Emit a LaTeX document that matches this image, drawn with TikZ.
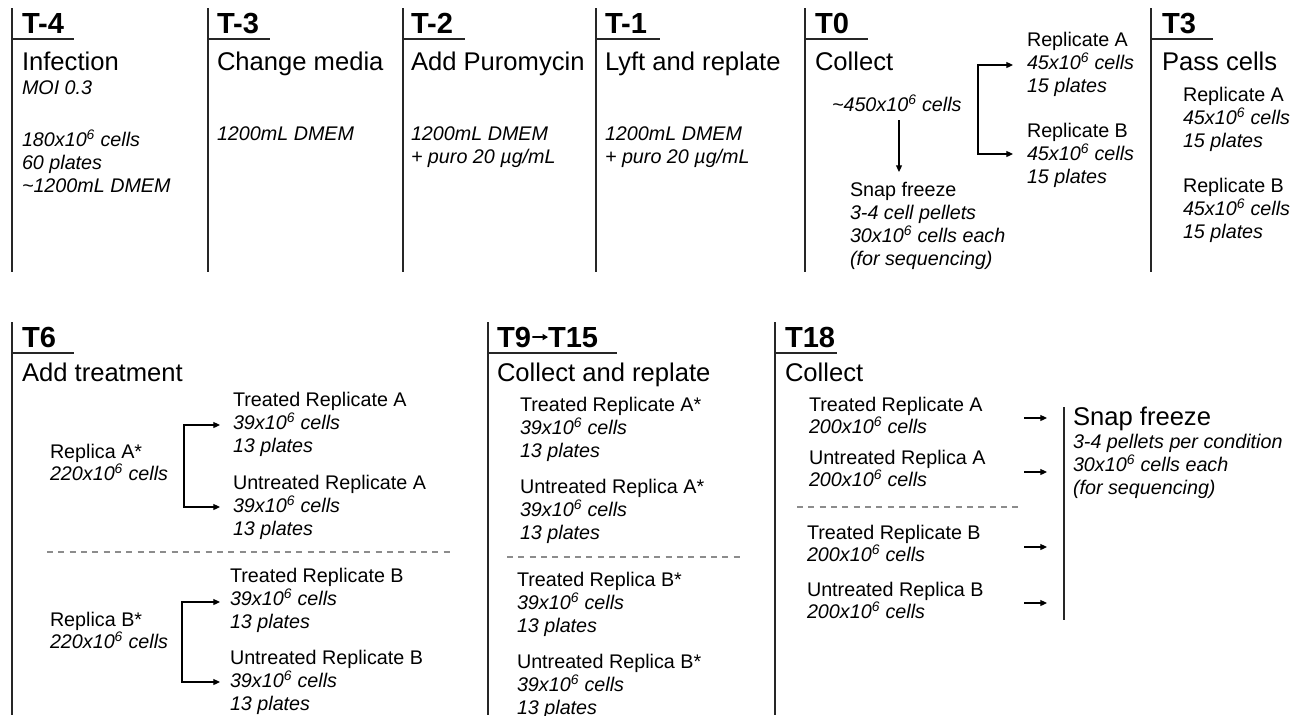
\documentclass[tikz,border=0pt]{standalone}
\usepackage{fontspec}
\setmainfont{Liberation Sans}
\usetikzlibrary{arrows.meta}
\newcommand\ttlf{\fontsize{21.8}{26}\selectfont\bfseries}
\newcommand\hdgf{\fontsize{19.2}{23}\selectfont}
\newcommand\smlf{\fontsize{14.8}{17.25}\selectfont}
\newcommand\blk[1]{\smlf\begin{tabular}[t]{@{}l@{}}#1\end{tabular}}
\newcommand\tsx{x10\textsuperscript{6}}
\begin{document}
\begin{tikzpicture}[x=0.75pt,y=-0.75pt,
  txt/.style={anchor=base west,inner sep=0pt,outer sep=0pt},
  ttl/.style={txt,font=\ttlf},
  hdg/.style={txt,font=\hdgf},
  sml/.style={txt,font=\smlf},
  vline/.style={line width=1pt,draw=black!85},
  uline/.style={line width=1pt,draw=black!85},
  sepline/.style={draw=black!45,line width=1.6pt,dash pattern=on 4.5pt off 4pt},
  arr/.style={line width=0.8pt,-{Triangle[length=5pt,width=4.5pt]}},
  barr/.style={line width=0.8pt,{Triangle[length=5pt,width=4.5pt]}-{Triangle[length=5pt,width=4.5pt]}}]
\useasboundingbox (0,0) rectangle (1316,715);

% ---------- top row: separators ----------
\foreach \x in {12,208,403,596,805,1151} \draw[vline] (\x,8) -- (\x,272);
\foreach \x/\e in {12/74,208/270,403/465,596/660,805/868,1151/1213} \draw[uline] (\x,39) -- (\e,39);

% titles
\node[ttl] (tm4) at (22,33) {T-4};
\node[ttl] (tm3) at (217,33) {T-3};
\node[ttl] (tm2) at (411,33) {T-2};
\node[ttl] (tm1) at (605,33) {T-1};
\node[ttl] (t0) at (815,33) {T0};
\node[ttl] (t3) at (1162,33) {T3};

% headings
\node[hdg] (hm4) at (22,70) {Infection};
\node[hdg] (hm3) at (217,70) {Change media};
\node[hdg] (hm2) at (411,70) {Add Puromycin};
\node[hdg] (hm1) at (605,70) {Lyft and replate};
\node[hdg] (h0) at (815,70) {Collect};
\node[hdg] (h3) at (1162,70) {Pass cells};

% T-4
\node[sml] (moi) at (22,94) {\itshape MOI 0.3};
\node[txt] (m4b) at (22,146) {\blk{\textit{180\tsx{} cells}\\ \textit{60 plates}\\ \textit{\textasciitilde1200mL DMEM}}};
% T-3
\node[sml] (m3b) at (217,140) {\itshape 1200mL DMEM};
% T-2
\node[txt] (m2b) at (411,140) {\blk{\textit{1200mL DMEM}\\[0.5pt] \textit{+ puro 20 µg/mL}}};
% T-1
\node[txt] (m1b) at (605,140) {\blk{\textit{1200mL DMEM}\\[0.5pt] \textit{+ puro 20 µg/mL}}};

% T0
\node[sml] (c450) at (832,111) {\itshape \textasciitilde450\tsx{} cells};
\coordinate (d1) at (899,120);
\coordinate (d2) at (899,172);
\draw[arr] (d1) -- (d2);
\node[txt] (snap0) at (850,196) {\blk{Snap freeze\\ \textit{3-4 cell pellets}\\ \textit{30\tsx{} cells each}\\ \textit{(for sequencing)}}};
\node[txt] (r0a) at (1027,46) {\blk{Replicate A\\ \textit{45\tsx{} cells}\\ \textit{15 plates}}};
\node[txt] (r0b) at (1027,137) {\blk{Replicate B\\ \textit{45\tsx{} cells}\\ \textit{15 plates}}};
\coordinate (b0a) at (1013,65);
\coordinate (b0b) at (1013,154);
\coordinate (b0c) at (978,65);
\coordinate (b0d) at (978,154);
\draw[barr] (b0a) -- (b0c) -- (b0d) -- (b0b);

% T3
\node[txt] (r3a) at (1183,101) {\blk{Replicate A\\ \textit{45\tsx{} cells}\\ \textit{15 plates}}};
\node[txt] (r3b) at (1183,192) {\blk{Replicate B\\ \textit{45\tsx{} cells}\\ \textit{15 plates}}};

% ---------- bottom row ----------
\foreach \x in {12,488,775} \draw[vline] (\x,322) -- (\x,715);
\draw[uline] (12,353) -- (74,353);
\draw[uline] (488,353) -- (617,353);
\draw[uline] (775,353) -- (837,353);

\node[ttl] (t6) at (22,347) {T6};
\node[ttl] (t9) at (497,347) {T9};
\node[ttl] (t15) at (548,347) {T15};
\draw[line width=1.3pt,-{Triangle[length=4pt,width=4.5pt]},shorten <=1pt] (t9) -- (t15);
\node[ttl] (t18) at (785,347) {T18};

\node[hdg] (h6) at (22,381) {Add treatment};
\node[hdg] (h9) at (497,381) {Collect and replate};
\node[hdg] (h18) at (785,381) {Collect};

% T6
\node[txt] (ra6) at (50,458) {\blk{Replica A*\\[-1pt] \textit{220\tsx{} cells}}};
\node[txt] (ta6) at (233,406) {\blk{Treated Replicate A\\ \textit{39\tsx{} cells}\\ \textit{13 plates}}};
\node[txt] (ua6) at (233,489) {\blk{Untreated Replicate A\\ \textit{39\tsx{} cells}\\ \textit{13 plates}}};
\coordinate (a6t) at (220,425);
\coordinate (a6u) at (220,507);
\coordinate (a6c) at (184,425);
\coordinate (a6d) at (184,507);
\draw[barr] (a6t) -- (a6c) -- (a6d) -- (a6u);
\draw[sepline] (47,552) -- (453,552);
\node[txt] (rb6) at (50,626) {\blk{Replica B*\\[-1pt] \textit{220\tsx{} cells}}};
\node[txt] (tb6) at (230,582) {\blk{Treated Replicate B\\ \textit{39\tsx{} cells}\\ \textit{13 plates}}};
\node[txt] (ub6) at (230,664) {\blk{Untreated Replicate B\\ \textit{39\tsx{} cells}\\ \textit{13 plates}}};
\coordinate (b6t) at (220,602);
\coordinate (b6u) at (220,682);
\coordinate (b6c) at (182,602);
\coordinate (b6d) at (182,682);
\draw[barr] (b6t) -- (b6c) -- (b6d) -- (b6u);

% T9 -> T15
\node[txt] (ta9) at (520,411) {\blk{Treated Replicate A*\\ \textit{39\tsx{} cells}\\ \textit{13 plates}}};
\node[txt] (ua9) at (520,493) {\blk{Untreated Replica A*\\ \textit{39\tsx{} cells}\\ \textit{13 plates}}};
\draw[sepline] (507,557) -- (742,557);
\node[txt] (tb9) at (517,586) {\blk{Treated Replica B*\\ \textit{39\tsx{} cells}\\ \textit{13 plates}}};
\node[txt] (ub9) at (517,668) {\blk{Untreated Replica B*\\ \textit{39\tsx{} cells}\\ \textit{13 plates}}};

% T18
\node[txt] (ta18) at (809,411) {\blk{Treated Replicate A\\[-1pt] \textit{200\tsx{} cells}}};
\node[txt] (ua18) at (809,464) {\blk{Untreated Replica A\\[-1pt] \textit{200\tsx{} cells}}};
\draw[sepline] (797,507) -- (1022,507);
\node[txt] (tb18) at (807,539) {\blk{Treated Replicate B\\[-1pt] \textit{200\tsx{} cells}}};
\node[txt] (ub18) at (807,596) {\blk{Untreated Replica B\\[-1pt] \textit{200\tsx{} cells}}};
\foreach \y/\n in {418/p1,472/p2,547/p3,603/p4}{
  \coordinate (\n s) at (1024,\y);
  \coordinate (\n e) at (1047,\y);
  \draw[arr] (\n s) -- (\n e);
}
\draw[vline] (1064,407) -- (1064,620);
\node[hdg] (snap18) at (1073,425) {Snap freeze};
\node[txt] (snap18b) at (1073,448) {\blk{\textit{3-4 pellets per condition}\\ \textit{30\tsx{} cells each}\\ \textit{(for sequencing)}}};
\end{tikzpicture}
\end{document}
